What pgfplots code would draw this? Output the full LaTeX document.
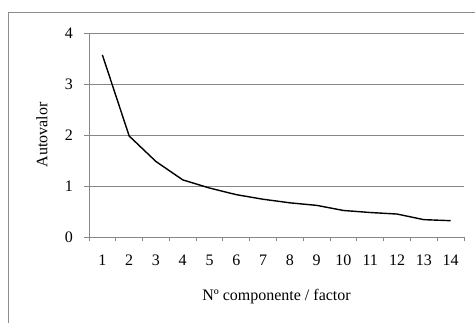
\documentclass[border=0pt]{standalone}
\usepackage{fontspec}
\setmainfont{Liberation Serif}
\usepackage{pgfplots}
\pgfplotsset{compat=1.18}
\definecolor{gridc}{RGB}{134,134,134}
\definecolor{framec}{RGB}{140,140,140}
\begin{document}
\fontsize{16}{19}\selectfont
\begin{tikzpicture}
\useasboundingbox (0,0) rectangle (475pt,323pt);
\begin{scope}
\clip (0,0) rectangle (475pt,323pt);
\draw[color=framec, line width=0.8pt] (8pt,-10pt) -- (8pt,311pt) -- (490pt,311pt);
\end{scope}
\begin{axis}[
  at={(89pt,86pt)}, anchor=south west,
  scale only axis, width=375pt, height=204pt,
  xmin=0.5, xmax=14.5, ymin=0, ymax=4,
  axis lines*=left,
  axis line style={color=gridc, line width=0.9pt},
  xtick={0.5,1.5,...,14.5},
  x tick label as interval,
  xticklabels={1,2,3,4,5,6,7,8,9,10,11,12,13,14},
  ytick={0,1,2,3,4},
  tick align=outside,
  major tick length=4.5pt,
  tick style={color=gridc, line width=0.9pt},
  ymajorgrids,
  grid style={color=gridc, line width=0.9pt},
  /pgf/number format/assume math mode=true,
  xticklabel style={yshift=-8pt},
  yticklabel style={xshift=-6pt},
  xlabel={Nº componente / factor},
  ylabel={Autovalor},
  every axis x label/.style={at={(axis description cs:0.5,0)}, anchor=center, yshift=-60pt},
  every axis y label/.style={at={(axis description cs:0,0.5)}, rotate=90, anchor=center, yshift=47pt},
  clip=false,
]
\addplot[black, line width=1.4pt, mark=none] coordinates {
(1,3.57) (2,1.98) (3,1.48) (4,1.12) (5,0.96) (6,0.83) (7,0.74)
(8,0.67) (9,0.62) (10,0.52) (11,0.48) (12,0.45) (13,0.34) (14,0.32)
};
\end{axis}
\end{tikzpicture}
\end{document}
